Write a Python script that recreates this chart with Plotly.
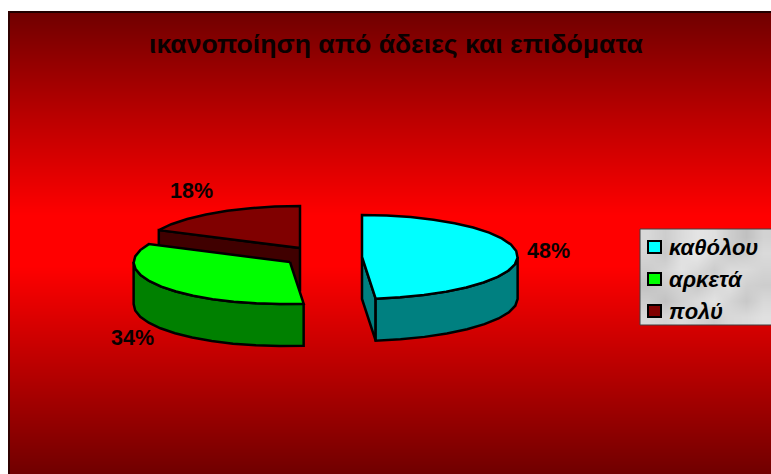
import numpy as np
import plotly.graph_objects as go

title = "ικανοποίηση από άδειες και επιδόματα"
categories = ["καθόλου", "αρκετά", "πολύ"]
shares = [48, 34, 18]

top_colors = ["#00FFFF", "#00FF00", "#800000"]
side_colors = ["#008080", "#008000", "#400000"]

# Exploded slice hubs on the page, pie radii and extrusion depth, in pixels
hubs = [(362, 257), (290, 262), (300, 248)]
RX, RY, DEPTH = 156, 42, 42
FRONT_PINCH = -6
label_offsets = [(31, -3), (-29, 51), (-25, -22)]

# Mottled grey of the legend panel, rows top to bottom
legend_marble = [
    [216, 205, 218, 228, 224, 205, 192, 210],
    [212, 200, 224, 232, 218, 202, 205, 218],
    [205, 212, 226, 218, 205, 218, 218, 212],
    [194, 205, 212, 200, 214, 224, 208, 205],
    [205, 194, 208, 218, 226, 212, 200, 216],
    [216, 212, 218, 212, 205, 216, 218, 224],
]

W, H = 771, 474
LEFT, TOP = 8, 11
LEG_X0, LEG_X1, LEG_Y0, LEG_Y1 = 640, 771, 229, 325


def rim(hub, angles_deg, drop=0):
    a = np.radians(angles_deg)
    pinch = FRONT_PINCH * ((1 - np.cos(a)) / 2) ** 4
    return hub[0] + RX * np.sin(a) + pinch, hub[1] - RY * np.cos(a) + drop


def arc_angles(start, end):
    n = max(2, int(round((end - start) / 9)) + 1)
    return np.linspace(start, end, n)


def polygon(xs, ys, fill):
    return go.Scatter(
        x=xs, y=ys, mode="lines", fill="toself", fillcolor=fill,
        line=dict(color="black", width=2.5), hoverinfo="skip", showlegend=False,
    )


fig = go.Figure()

# Page backdrop: vertical dark red / red / dark red blend with a red band mid-page
rows = np.arange(TOP, H + 1)
fig.add_trace(go.Heatmap(
    x=[LEFT, W], y=rows, z=[[float(r)] for r in rows[:-1]],
    zmin=TOP, zmax=H, showscale=False, hoverinfo="skip",
    colorscale=[[0, "#700000"], [0.44, "#FF0000"], [0.55, "#FF0000"], [1, "#700000"]],
))

# Legend panel texture; smoothed cells are centred on their coordinates
nrows, ncols = len(legend_marble), len(legend_marble[0])
half_x = (LEG_X1 - LEG_X0) / ncols / 2
half_y = (LEG_Y1 - LEG_Y0) / nrows / 2
fig.add_trace(go.Heatmap(
    x=np.linspace(LEG_X0 + half_x, LEG_X1 - half_x, ncols),
    y=np.linspace(LEG_Y0 + half_y, LEG_Y1 - half_y, nrows),
    z=legend_marble, zmin=0, zmax=255, zsmooth="best", showscale=False,
    hoverinfo="skip", colorscale=[[0, "#000000"], [1, "#FFFFFF"]],
))

# Slices are painted back to front
edges = np.concatenate([[0], np.cumsum(shares)]) * 3.6
for i in [2, 1, 0]:
    start, end = edges[i], edges[i + 1]
    hub = hubs[i]

    # Radial cut faces that look towards the viewer
    for angle, normal in ((start, start - 90), (end, end + 90)):
        if np.cos(np.radians(normal)) < -1e-6:
            rx, ry = rim(hub, angle)
            fig.add_trace(polygon(
                [hub[0], rx, rx, hub[0], hub[0]],
                [hub[1], ry, ry + DEPTH, hub[1] + DEPTH, hub[1]],
                side_colors[i],
            ))

    # Outer wall along the front half of the rim
    wall_start, wall_end = max(start, 90), min(end, 270)
    if wall_end > wall_start:
        a = arc_angles(wall_start, wall_end)
        tx, ty = rim(hub, a)
        bx, by = rim(hub, a, DEPTH)
        fig.add_trace(polygon(
            np.r_[tx, bx[::-1], tx[0]], np.r_[ty, by[::-1], ty[0]], side_colors[i],
        ))

    # Top face
    a = arc_angles(start, end)
    tx, ty = rim(hub, a)
    fig.add_trace(polygon(
        np.r_[hub[0], tx, hub[0]], np.r_[hub[1], ty, hub[1]], top_colors[i],
    ))

annotations = []
for i, share in enumerate(shares):
    mid = (edges[i] + edges[i + 1]) / 2
    rx, ry = rim(hubs[i], mid)
    annotations.append(dict(
        x=rx + label_offsets[i][0], y=ry + label_offsets[i][1],
        xref="x", yref="y", text=f"<b>{share}%</b>", showarrow=False,
        font=dict(family="Liberation Sans", size=21.5, color="#0A0000"),
    ))

annotations.append(dict(
    x=396.5, y=44, xref="x", yref="y", text=f"<b>{title}</b>", showarrow=False,
    font=dict(family="Liberation Sans", size=26.6, color="#0A0000"),
))

shapes = [
    # Dark edge on the top and left of the page panel
    dict(type="line", x0=LEFT, x1=W, y0=TOP + 1, y1=TOP + 1, line=dict(color="#200000", width=2)),
    dict(type="line", x0=LEFT + 1, x1=LEFT + 1, y0=TOP, y1=H, line=dict(color="#300000", width=2)),
    # Legend frame
    dict(type="rect", x0=LEG_X0, x1=LEG_X1 + 2, y0=LEG_Y0, y1=LEG_Y1,
         line=dict(color="#404040", width=1), fillcolor="rgba(0,0,0,0)"),
]

for i, cat in enumerate(categories):
    cy = 247 + 32 * i
    shapes.append(dict(type="rect", x0=648, x1=661, y0=cy - 6, y1=cy + 6,
                       fillcolor=top_colors[i], line=dict(color="black", width=2)))
    annotations.append(dict(
        x=667, y=cy, xref="x", yref="y", xanchor="left", showarrow=False,
        text=f"<b><i>{cat}</i></b>",
        font=dict(family="Liberation Sans", size=22, color="black"),
    ))

fig.update_layout(
    width=W, height=H, margin=dict(l=0, r=0, t=0, b=0),
    paper_bgcolor="white", plot_bgcolor="white", showlegend=False,
    xaxis=dict(range=[0, W], visible=False, fixedrange=True),
    yaxis=dict(range=[H, 0], visible=False, fixedrange=True),
    annotations=annotations, shapes=shapes,
)

fig.write_html("out.html", config=dict(displayModeBar=False))
